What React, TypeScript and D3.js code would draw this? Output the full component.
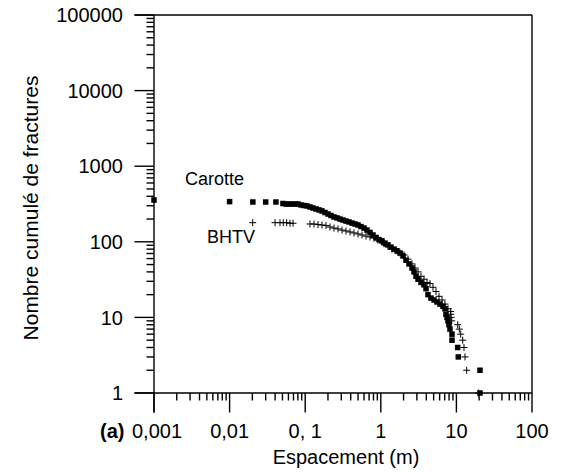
import React from "react";
import * as d3 from "d3";

const carotteSpacing = [
  0.001, 0.01, 0.0203, 0.03, 0.041, 0.0508, 0.0557, 0.0611, 0.0669, 0.0733, 0.0804, 0.088, 0.0964,
  0.1057, 0.1156, 0.1267, 0.139, 0.1524, 0.1667, 0.1828, 0.2004, 0.2193, 0.2404, 0.2636, 0.2884,
  0.3162, 0.3467, 0.3793, 0.4159, 0.456, 0.4989, 0.547, 0.6, 0.656, 0.719, 0.789, 0.865, 0.946,
  1.037, 1.137, 1.245, 1.365, 1.496, 1.637, 1.795, 1.968, 2.153, 2.361, 2.588, 2.748, 2.924,
  3.105, 3.404, 3.724, 3.963, 4.207, 4.613, 5.058, 5.534, 6.067, 6.653, 7.063, 7.278, 7.516,
  7.745, 7.98, 8.222, 8.75, 8.75, 10.4, 10.59, 20.51, 20.51,
];
const carotteCount = [
  357, 340, 336, 336, 336, 321, 316, 316, 316, 316, 316, 307, 302,
  298, 289, 280, 272, 264, 256, 244, 233, 223, 213, 207, 200,
  194, 188, 183, 177, 172, 167, 159, 152, 143, 133, 123, 114, 107,
  103, 96, 91, 85, 80, 76, 71, 65, 57, 51, 45, 40, 35,
  32, 29, 27, 24, 20, 18, 17, 16, 15, 14, 13, 11, 10,
  9, 8, 7, 6, 5, 4, 3, 2, 1,
];

const bhtvSpacing = [
  0.0202, 0.0399, 0.0464, 0.0513, 0.0569, 0.0629, 0.069, 0.1157, 0.1307, 0.1477, 0.1668, 0.1884,
  0.2128, 0.2404, 0.2716, 0.3068, 0.3465, 0.3914, 0.442, 0.4994, 0.5641, 0.6371, 0.7197, 0.813,
  0.918, 1.02, 1.102, 1.245, 1.406, 1.589, 1.795, 2.027, 2.29, 2.586, 2.834, 3.105, 3.402, 3.727,
  4.085, 4.475, 4.903, 5.372, 5.886, 6.449, 7.066, 7.745, 8.41, 8.41, 8.5, 8.67, 10.4, 10.93,
  11.4, 12.12, 12.6, 13.0, 13.68, 19.49,
];
const bhtvCount = [
  179, 179, 179, 179, 179, 176, 176, 172, 172, 169, 167, 164,
  157, 152, 148, 143, 139, 135, 131, 127, 123, 119, 116, 112,
  105, 100, 94, 87, 80, 76, 71, 67, 59, 51, 45, 40, 35, 32,
  29, 28, 25, 22, 19, 17, 15, 13, 12, 11, 10, 9, 8, 7,
  6, 5, 4, 3, 2, 1,
];

const xTickValues = [0.001, 0.01, 0.1, 1, 10, 100];
const xTickLabels = ["0,001", "0,01", "0, 1", "1", "10", "100"];
const yTickValues = [1, 10, 100, 1000, 10000, 100000];
const yTickLabels = ["1", "10", "100", "1000", "10000", "100000"];

const xTitle = "Espacement (m)";
const yTitle = "Nombre cumulé de fractures";
const panelLabel = "(a)";
const seriesLabels = ["Carotte", "BHTV"];

const W = 562;
const H = 473;
const L = 154;
const R = 532;
const T = 15;
const B = 393;
const FONT = "'Liberation Sans', Arial, Helvetica, sans-serif";

export default function App() {
  const x = d3.scaleLog().domain([0.001, 100]).range([L, R]);
  const y = d3.scaleLog().domain([1, 100000]).range([B, T]);

  const minorX: number[] = [];
  for (let e = -3; e < 2; e++) for (let m = 2; m <= 9; m++) minorX.push(m * Math.pow(10, e));
  const minorY: number[] = [];
  for (let e = 0; e < 5; e++) for (let m = 2; m <= 9; m++) minorY.push(m * Math.pow(10, e));

  const carotte = carotteSpacing.map((s, i) => [s, carotteCount[i]]);
  const bhtv = bhtvSpacing.map((s, i) => [s, bhtvCount[i]]);

  const majorLen = 19.5;
  const minorLen = 7.5;
  const sq = 5.5;
  const pl = 3.5;

  return (
    <svg
      width={W}
      height={H}
      style={{ position: "absolute", left: 0, top: 0, background: "#fff" }}
      fontFamily={FONT}
    >
      <rect x={0} y={0} width={W} height={H} fill="#fff" />
      {/* frame */}
      <g stroke="#000" strokeWidth={1.4} fill="none">
        <line x1={L - majorLen} x2={R} y1={T} y2={T} />
        <line x1={R} x2={R} y1={T} y2={B} />
        <line x1={L - majorLen} x2={R} y1={B} y2={B} />
        <line x1={L} x2={L} y1={T} y2={B + majorLen} />
      </g>
      {/* ticks */}
      <g stroke="#000" strokeWidth={1.4}>
        {yTickValues.map((v) => (
          <line key={"ym" + v} x1={L - majorLen} x2={L} y1={y(v)} y2={y(v)} />
        ))}
        {minorY.map((v) => (
          <line key={"yn" + v} x1={L - minorLen} x2={L} y1={y(v)} y2={y(v)} />
        ))}
        {xTickValues.map((v) => (
          <line key={"xm" + v} x1={x(v)} x2={x(v)} y1={B} y2={B + majorLen} />
        ))}
        {minorX.map((v) => (
          <line key={"xn" + v} x1={x(v)} x2={x(v)} y1={B} y2={B + minorLen} />
        ))}
      </g>
      {/* tick labels and titles */}
      <g fontSize={20} fill="#000">
        {yTickValues.map((v, i) => (
          <text key={"yl" + v} x={L - 31} y={y(v)} dy="0.36em" textAnchor="end">
            {yTickLabels[i]}
          </text>
        ))}
        {xTickValues.map((v, i) => (
          <text key={"xl" + v} x={x(v) + (i === 0 ? 3 : 0)} y={438} textAnchor="middle">
            {xTickLabels[i]}
          </text>
        ))}
        <text x={(L + R) / 2 + 3} y={464} textAnchor="middle">
          {xTitle}
        </text>
        <text transform={`translate(38,${(T + B) / 2 + 4}) rotate(-90)`} textAnchor="middle" fontSize={21}>
          {yTitle}
        </text>
      </g>
      <text x={100} y={438} fontWeight="bold" fontSize={20} fill="#000">
        {panelLabel}
      </text>
      <g fontSize={18} fill="#000">
        <text x={185} y={185}>
          {seriesLabels[0]}
        </text>
        <text x={207} y={243}>
          {seriesLabels[1]}
        </text>
      </g>
      {/* data */}
      <g fill="#000">
        {carotte.map((d, i) => (
          <rect key={"c" + i} x={x(d[0]) - sq / 2} y={y(d[1]) - sq / 2} width={sq} height={sq} />
        ))}
      </g>
      <g stroke="#000" strokeWidth={1}>
        {bhtv.map((d, i) => (
          <path
            key={"b" + i}
            d={`M${x(d[0]) - pl},${y(d[1])}H${x(d[0]) + pl}M${x(d[0])},${y(d[1]) - pl}V${y(d[1]) + pl}`}
          />
        ))}
      </g>
    </svg>
  );
}
